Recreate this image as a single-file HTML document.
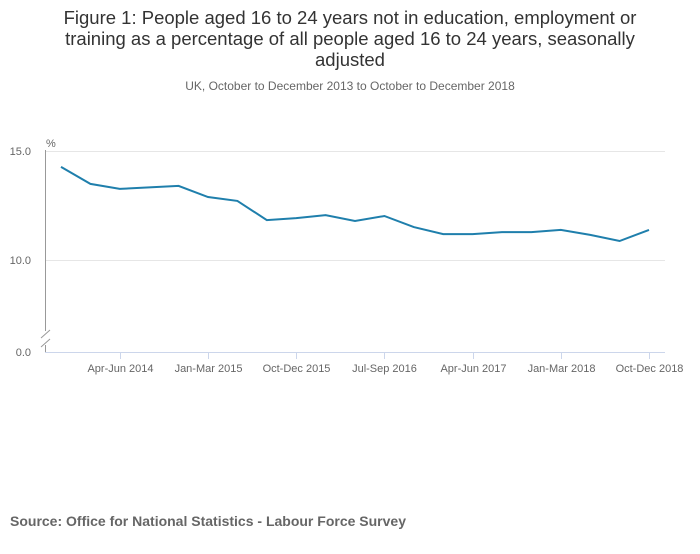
<!DOCTYPE html>
<html><head><meta charset="utf-8"><style>
body{margin:0;background:#fff;width:700px;height:549px;overflow:hidden;font-family:"Liberation Sans",sans-serif}
</style></head><body>
<svg width="700" height="549" xmlns="http://www.w3.org/2000/svg" font-family="Liberation Sans, sans-serif">
<text x="350" text-anchor="middle" font-size="18.5" fill="#333"><tspan x="350" y="24">Figure 1: People aged 16 to 24 years not in education, employment or</tspan><tspan x="350" y="45">training as a percentage of all people aged 16 to 24 years, seasonally</tspan><tspan x="350" y="66">adjusted</tspan></text>
<text x="350" y="90" text-anchor="middle" font-size="12" fill="#666">UK, October to December 2013 to October to December 2018</text>
<g id="grid"></g>
<text x="46" y="147" font-size="11" fill="#666">%</text>
<line x1="45.5" y1="150" x2="45.5" y2="331" stroke="#999" stroke-width="1"/>
<line x1="45.5" y1="345" x2="45.5" y2="352" stroke="#999" stroke-width="1"/>
<line x1="41" y1="338" x2="50" y2="330" stroke="#999"/>
<line x1="41" y1="347" x2="50" y2="339" stroke="#999"/>
<line x1="45" y1="352.5" x2="665" y2="352.5" stroke="#ccd6eb" stroke-width="1"/>
<text x="31" y="356" text-anchor="end" font-size="11" fill="#666">0.0</text>
<g id="xt"></g>
<path id="line" fill="none" stroke="#206095" stroke-width="2" style="stroke:#1f7fac"/>
<text x="10" y="526" font-size="14" font-weight="bold" fill="#666">Source: Office for National Statistics - Labour Force Survey</text>
</svg>
<script>
const categories=["Oct-Dec 2013","Jan-Mar 2014","Apr-Jun 2014","Jul-Sep 2014","Oct-Dec 2014","Jan-Mar 2015","Apr-Jun 2015","Jul-Sep 2015","Oct-Dec 2015","Jan-Mar 2016","Apr-Jun 2016","Jul-Sep 2016","Oct-Dec 2016","Jan-Mar 2017","Apr-Jun 2017","Jul-Sep 2017","Oct-Dec 2017","Jan-Mar 2018","Apr-Jun 2018","Jul-Sep 2018","Oct-Dec 2018"];
const values=[14.27,13.49,13.26,13.33,13.4,12.89,12.71,11.83,11.92,12.06,11.79,12.02,11.51,11.19,11.19,11.28,11.28,11.38,11.15,10.87,11.38];
const yTicks=[10.0,15.0];
const xTickIdx=[2,5,8,11,14,17,20];
const NS="http://www.w3.org/2000/svg";
const x=i=>61+i*(588/(categories.length-1));
const y=v=>260-(v-10)*21.8;
let d="";values.forEach((v,i)=>{d+=(i?"L":"M")+x(i).toFixed(1)+","+y(v).toFixed(1);});
document.getElementById("line").setAttribute("d",d);
const g=document.getElementById("grid");
yTicks.forEach(t=>{
 const l=document.createElementNS(NS,"line");
 
 
 l.setAttribute("x1",45);l.setAttribute("x2",665);l.setAttribute("y1",y(t)+0.5);l.setAttribute("y2",y(t)+0.5);l.setAttribute("stroke","#e6e6e6");
 g.appendChild(l);
 const tx=document.createElementNS(NS,"text");
 
 
 tx.setAttribute("x",31);tx.setAttribute("y",y(t)+4);tx.setAttribute("text-anchor","end");tx.setAttribute("font-size","11");tx.setAttribute("fill","#666");
 tx.textContent=t.toFixed(1);g.appendChild(tx);
});
const xt=document.getElementById("xt");
xTickIdx.forEach(i=>{
 const l=document.createElementNS(NS,"line");
 
 
 const px=Math.round(x(i))+0.5;
 l.setAttribute("x1",px);l.setAttribute("x2",px);l.setAttribute("y1",352);l.setAttribute("y2",359);l.setAttribute("stroke","#ccd6eb");
 xt.appendChild(l);
 const tx=document.createElementNS(NS,"text");
 
 
 tx.setAttribute("x",px);tx.setAttribute("y",372);tx.setAttribute("text-anchor","middle");tx.setAttribute("font-size","11");tx.setAttribute("fill","#666");
 tx.textContent=categories[i];xt.appendChild(tx);
});
</script>
</body></html>
